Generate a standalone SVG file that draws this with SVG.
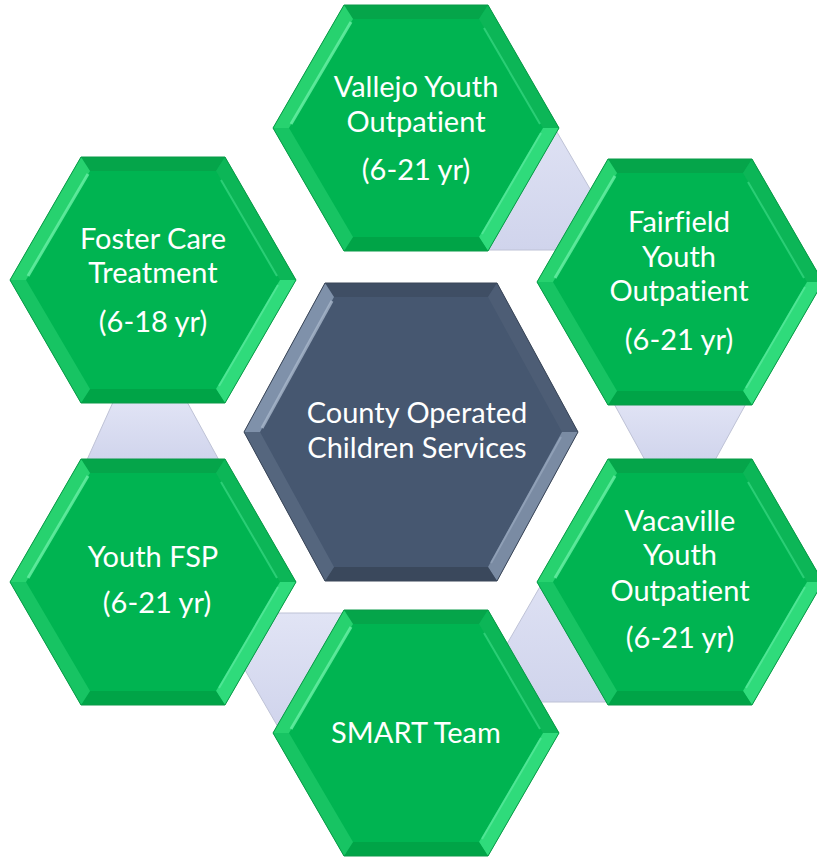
<svg xmlns="http://www.w3.org/2000/svg" xmlns:xlink="http://www.w3.org/1999/xlink" width="817" height="858" viewBox="0 0 817 858">
  <style>
    .lbl { font-family: Lato, "Liberation Sans", sans-serif; font-size: 29px; fill: #FFFFFF; text-anchor: middle; font-variant-ligatures: none; font-feature-settings: "liga" 0; }
    .conn { fill: url(#connGrad); stroke: #BEC2D6; stroke-width: 1; }
    .gMain { fill: #00B451; }
    .gTop { fill: #05A54A; }
    .gUR { fill: #0CB657; }
    .gLR { fill: #2FDB7B; }
    .gBot { fill: #00A447; }
    .gLL { fill: #17C463; }
    .gUL { fill: #27D26F; }
    .gEdge { fill: none; stroke: #0A9A48; stroke-width: 1; }
    .sMain { fill: #465770; }
    .sTop { fill: #3F4E64; }
    .sUR { fill: #4D5D75; }
    .sLR { fill: #7A8BA3; }
    .sBot { fill: #3A485C; }
    .sLL { fill: #55667E; }
    .sUL { fill: #7F91AA; }
  </style>
  <defs>
    <linearGradient id="connGrad" x1="0" y1="0" x2="0" y2="1">
      <stop offset="0" stop-color="#E1E4F5"/>
      <stop offset="1" stop-color="#D0D4EC"/>
    </linearGradient>
    <g id="hexG">
      <polygon class="gMain" points="-143,0 -72,-123 72,-123 143,0 72,123 -72,123"/>
      <polygon class="gTop" points="-72,-123 72,-123 63,-109 -63,-109"/>
      <polygon class="gUR" points="72,-123 143,0 127,0 63,-109"/>
      <polygon class="gLR" points="143,0 72,123 63,109 127,0"/>
      <polygon class="gBot" points="72,123 -72,123 -63,109 63,109"/>
      <polygon class="gLL" points="-72,123 -143,0 -127,0 -63,109"/>
      <polygon class="gUL" points="-143,0 -72,-123 -63,-109 -127,0"/>
      <line x1="-125" y1="-4" x2="-65" y2="-106" stroke="#6AF0A6" stroke-width="3" opacity="0.8"/>
      <line x1="124" y1="-4" x2="68" y2="-100" stroke="#45E08E" stroke-width="2" opacity="0.6"/>
      <line x1="125" y1="5" x2="66" y2="106" stroke="#5CEBA0" stroke-width="2" opacity="0.7"/>
      <polygon class="gEdge" points="-143,0 -72,-123 72,-123 143,0 72,123 -72,123"/>
    </g>
    <g id="hexS">
      <polygon class="sMain" points="-167,0 -86,-149 86,-149 167,0 86,149 -86,149"/>
      <polygon class="sTop" points="-86,-149 86,-149 77,-135 -77,-135"/>
      <polygon class="sUR" points="86,-149 167,0 151,0 77,-135"/>
      <polygon class="sLR" points="167,0 86,149 77,135 151,0"/>
      <polygon class="sBot" points="86,149 -86,149 -77,135 77,135"/>
      <polygon class="sLL" points="-86,149 -167,0 -151,0 -77,135"/>
      <polygon class="sUL" points="-167,0 -86,-149 -77,-135 -151,0"/>
      <line x1="-149" y1="-4" x2="-79" y2="-131" stroke="#A9B8CC" stroke-width="3" opacity="0.8"/>
      <line x1="150" y1="5" x2="80" y2="131" stroke="#9AAAC0" stroke-width="2" opacity="0.7"/>
      <polygon fill="none" stroke="#3A4658" stroke-width="1" points="-167,0 -86,-149 86,-149 167,0 86,149 -86,149"/>
    </g>
  </defs>

  <rect x="0" y="0" width="817" height="858" fill="#FFFFFF"/>

  <g id="connectors">
    <polygon class="conn" points="540,103 600,206 575,250 470,250 470,200"/>
    <polygon class="conn" points="612,400 748,400 714,462 646,462"/>
    <polygon class="conn" points="560,552 500,656 530,702 610,702 620,560"/>
    <polygon class="conn" points="278,613 360,613 380,670 360,727 278,727 245,670"/>
    <polygon class="conn" points="114,400 186,400 220,462 86,462"/>
  </g>

  <g id="center">
    <use xlink:href="#hexS" transform="translate(411,432)"/>
    <text class="lbl" x="417" y="423">County Operated</text>
    <text class="lbl" x="417" y="458">Children Services</text>
  </g>

  <g id="vallejo">
    <use xlink:href="#hexG" transform="translate(416,128)"/>
    <text class="lbl" x="416" y="97">Vallejo Youth</text>
    <text class="lbl" x="416" y="132">Outpatient</text>
    <text class="lbl" x="416" y="180">(6-21 yr)</text>
  </g>

  <g id="fairfield">
    <use xlink:href="#hexG" transform="translate(680,282)"/>
    <text class="lbl" x="679" y="232">Fairfield</text>
    <text class="lbl" x="679" y="267">Youth</text>
    <text class="lbl" x="679" y="301">Outpatient</text>
    <text class="lbl" x="679" y="350">(6-21 yr)</text>
  </g>

  <g id="vacaville">
    <use xlink:href="#hexG" transform="translate(680,582)"/>
    <text class="lbl" x="680" y="531">Vacaville</text>
    <text class="lbl" x="680" y="565">Youth</text>
    <text class="lbl" x="680" y="601">Outpatient</text>
    <text class="lbl" x="680" y="648">(6-21 yr)</text>
  </g>

  <g id="smart">
    <use xlink:href="#hexG" transform="translate(416,733)"/>
    <text class="lbl" x="416" y="743">SMART Team</text>
  </g>

  <g id="youthfsp">
    <use xlink:href="#hexG" transform="translate(153,582)"/>
    <text class="lbl" x="153" y="567">Youth FSP</text>
    <text class="lbl" x="157" y="613">(6-21 yr)</text>
  </g>

  <g id="fostercare">
    <use xlink:href="#hexG" transform="translate(153,280)"/>
    <text class="lbl" x="153" y="249">Foster Care</text>
    <text class="lbl" x="153" y="283">Treatment</text>
    <text class="lbl" x="153" y="332">(6-18 yr)</text>
  </g>
</svg>
